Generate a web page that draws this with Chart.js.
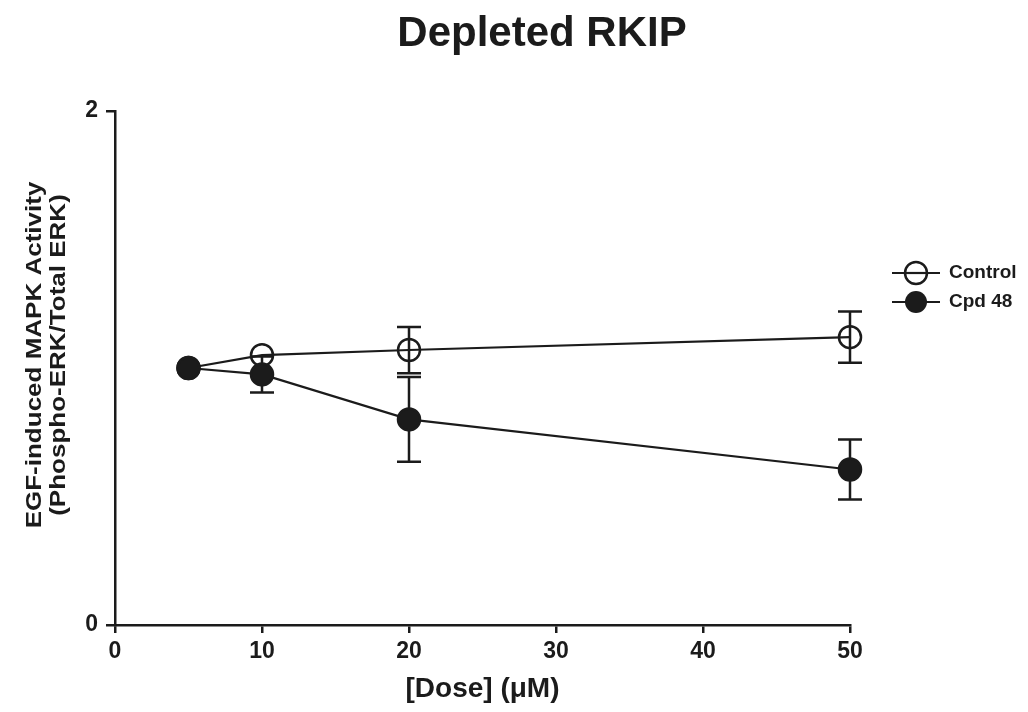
<!DOCTYPE html>
<html>
<head>
<meta charset="utf-8">
<title>Depleted RKIP</title>
<script src="https://cdn.jsdelivr.net/npm/chart.js@4.4.1/dist/chart.umd.min.js"></script>
<style>
  html, body { margin: 0; padding: 0; background: #fff; }
  #doseChart { display: block; }
</style>
</head>
<body>
<canvas id="doseChart" width="1028" height="712"></canvas>
<script>
// dose (uM) and normalised pERK/ERK, mean and SEM
const doses = [5, 10, 20, 50];
const controlMean = [1.0, 1.05, 1.07, 1.12];
const controlSem = [0, 0.02, 0.09, 0.10];
const cpdMean = [1.0, 0.975, 0.80, 0.605];
const cpdSem = [0, 0.07, 0.165, 0.117];
const xTicks = [0, 10, 20, 30, 40, 50];
const yTicks = [0, 2];
const seriesNames = ['Control', 'Cpd 48'];
const chartTitle = 'Depleted RKIP';
const yTitle = ['EGF-induced MAPK Activity', '(Phospho-ERK/Total ERK)'];

const ink = '#1b1b1b';
const fontFamily = "'Liberation Sans', Arial, Helvetica, sans-serif";
const markerRadius = 11;

const toPoints = (ys) => doses.map((d, i) => ({ x: d, y: ys[i] }));

// mean ± SEM bars, skipped when they'd be hidden inside the marker
const errorBars = {
    id: 'errorBars',
    beforeDatasetsDraw(chart) {
        const { ctx, scales: { x, y } } = chart;
        ctx.save();
        ctx.strokeStyle = ink;
        ctx.lineWidth = 2.5;
        chart.data.datasets.forEach(ds => {
            ds.sem.forEach((s, i) => {
                if (!s) return;
                const px = x.getPixelForValue(ds.data[i].x);
                const top = y.getPixelForValue(ds.data[i].y + s);
                const bottom = y.getPixelForValue(ds.data[i].y - s);
                if ((bottom - top) / 2 <= markerRadius) return;
                ctx.beginPath();
                ctx.moveTo(px, top); ctx.lineTo(px, bottom);
                ctx.moveTo(px - 12, top); ctx.lineTo(px + 12, top);
                ctx.moveTo(px - 12, bottom); ctx.lineTo(px + 12, bottom);
                ctx.stroke();
            });
        });
        ctx.restore();
    }
};

// title, squat two-line y title, legend with line-through markers
const extras = {
    id: 'extras',
    afterDraw(chart) {
        const { ctx, chartArea } = chart;
        ctx.save();
        ctx.fillStyle = ink;
        ctx.font = `bold 42px ${fontFamily}`;
        ctx.textAlign = 'center';
        ctx.textBaseline = 'alphabetic';
        ctx.fillText(chartTitle, 542, 46);
        ctx.restore();

        ctx.save();
        ctx.fillStyle = ink;
        ctx.font = `bold 26px ${fontFamily}`;
        ctx.textAlign = 'center';
        ctx.textBaseline = 'middle';
        ctx.translate(35, 355);
        ctx.rotate(-Math.PI / 2);
        ctx.scale(1, 0.84);
        yTitle.forEach((line, i) => ctx.fillText(line, 0, i * 28));
        ctx.restore();

        ctx.save();
        ctx.strokeStyle = ink;
        ctx.fillStyle = ink;
        ctx.font = `bold 19px ${fontFamily}`;
        ctx.textBaseline = 'middle';
        chart.data.datasets.forEach((ds, i) => {
            const x0 = chartArea.right + 42;
            const yy = 273 + i * 29;
            ctx.lineWidth = 2.2;
            ctx.beginPath();
            ctx.moveTo(x0, yy); ctx.lineTo(x0 + 48, yy);
            ctx.stroke();
            ctx.beginPath();
            ctx.arc(x0 + 24, yy, markerRadius, 0, Math.PI * 2);
            if (ds.pointBackgroundColor === ink) {
                ctx.fill();
            } else {
                ctx.fillStyle = '#fff';
                ctx.fill();
                ctx.lineWidth = 2.5;
                ctx.stroke();
                ctx.beginPath();
                ctx.lineWidth = 2.2;
                ctx.moveTo(x0 + 24 - markerRadius, yy); ctx.lineTo(x0 + 24 + markerRadius, yy);
                ctx.stroke();
                ctx.fillStyle = ink;
            }
            ctx.fillText(ds.label, x0 + 57, yy);
        });
        ctx.restore();
    }
};

new Chart(document.getElementById('doseChart'), {
    type: 'line',
    data: {
        datasets: [
            {
                label: seriesNames[0],
                data: toPoints(controlMean),
                sem: controlSem,
                borderColor: ink,
                borderWidth: 2.2,
                pointRadius: markerRadius,
                pointHoverRadius: markerRadius,
                pointBorderWidth: 2.5,
                pointBorderColor: ink,
                pointBackgroundColor: 'rgba(255,255,255,0)',
                tension: 0,
                clip: false,
                order: 2
            },
            {
                label: seriesNames[1],
                data: toPoints(cpdMean),
                sem: cpdSem,
                borderColor: ink,
                borderWidth: 2.2,
                pointRadius: markerRadius,
                pointHoverRadius: markerRadius,
                pointBorderWidth: 2.5,
                pointBorderColor: ink,
                pointBackgroundColor: ink,
                tension: 0,
                clip: false,
                order: 1
            }
        ]
    },
    options: {
        responsive: false,
        animation: false,
        layout: { padding: { left: 0, right: 178, top: 111, bottom: 0 } },
        scales: {
            x: {
                type: 'linear',
                min: xTicks[0],
                max: xTicks[xTicks.length - 1],
                afterBuildTicks: (scale) => { scale.ticks = xTicks.map(v => ({ value: v })); },
                afterFit: (scale) => { scale.height = 87; },
                border: { color: ink, width: 2.5 },
                grid: { drawOnChartArea: false, tickLength: 8, tickColor: ink, lineWidth: 2.5 },
                ticks: { color: ink, padding: 5, font: { family: fontFamily, size: 23, weight: 'bold' } },
                title: {
                    display: true,
                    text: '[Dose] (μM)',
                    color: ink,
                    padding: { top: 0, bottom: 6 },
                    font: { family: fontFamily, size: 28, weight: 'bold' }
                }
            },
            y: {
                min: yTicks[0],
                max: yTicks[yTicks.length - 1],
                afterBuildTicks: (scale) => { scale.ticks = yTicks.map(v => ({ value: v })); },
                afterFit: (scale) => { scale.width = 115; },
                border: { color: ink, width: 2.5 },
                grid: { drawOnChartArea: false, tickLength: 9, tickColor: ink, lineWidth: 2.5 },
                ticks: { color: ink, padding: 8, font: { family: fontFamily, size: 23, weight: 'bold' } }
            }
        },
        plugins: {
            legend: { display: false },
            tooltip: { enabled: false },
            title: { display: false }
        }
    },
    plugins: [errorBars, extras]
});
</script>
</body>
</html>
